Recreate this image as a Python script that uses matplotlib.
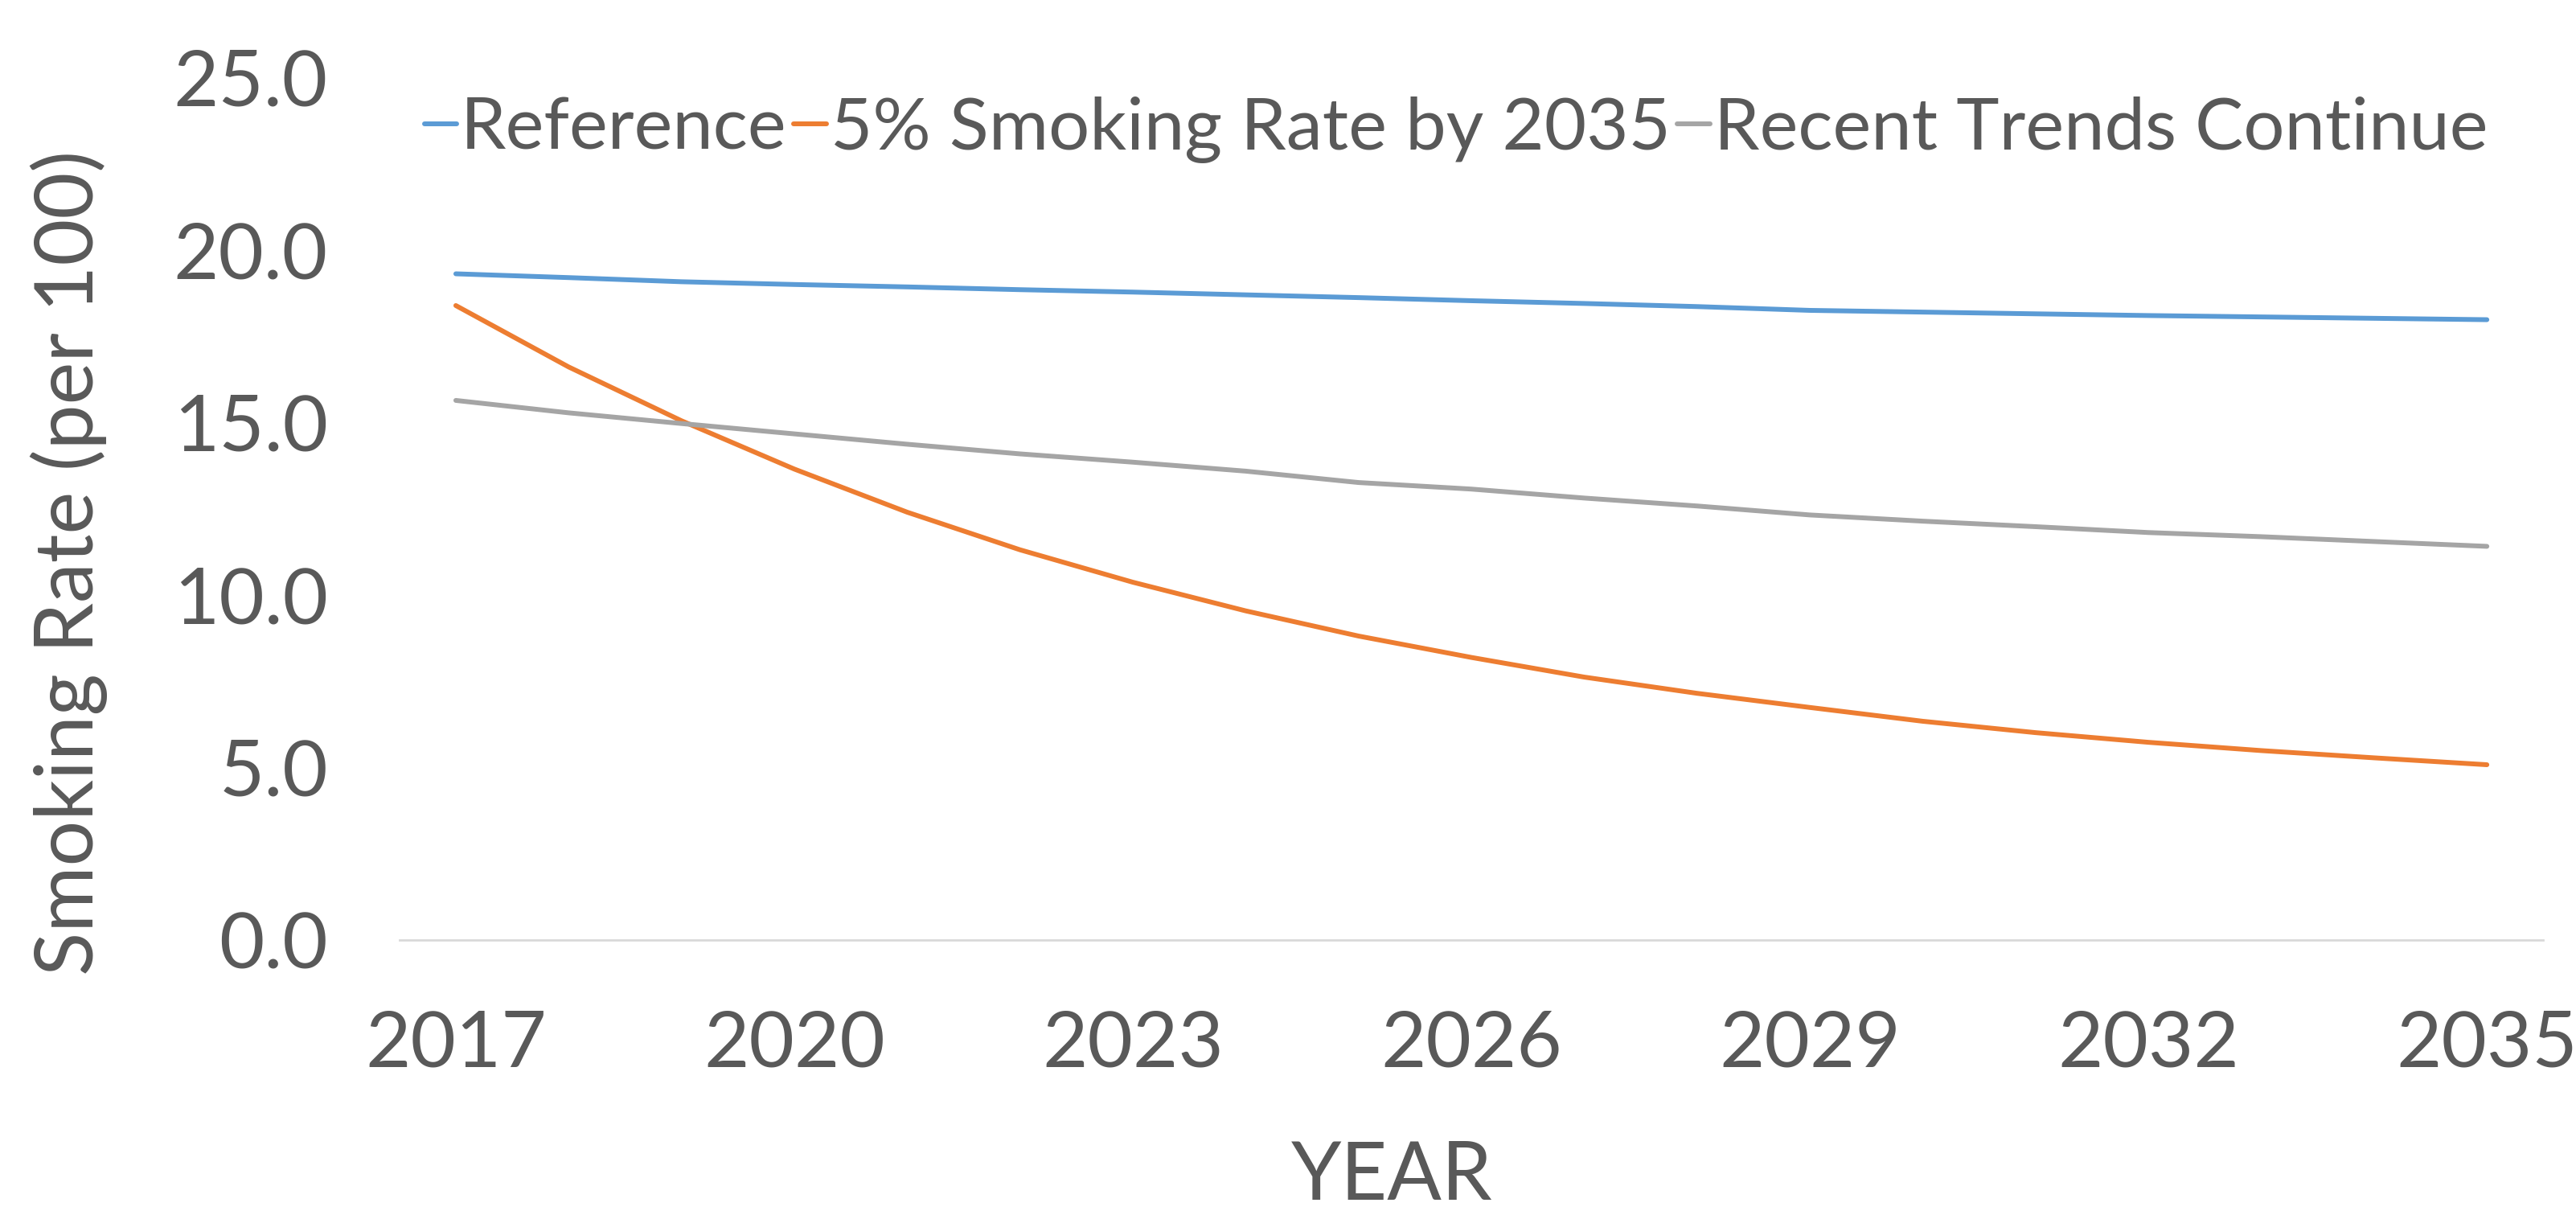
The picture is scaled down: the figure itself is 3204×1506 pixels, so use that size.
import numpy as np
import matplotlib
matplotlib.use("Agg")
import matplotlib.pyplot as plt

plt.rcParams['font.family'] = ['Lato', 'DejaVu Sans']

# data
years = list(range(2017, 2036))
reference = [19.31, 19.20, 19.08, 19.00, 18.93, 18.85, 18.78, 18.70, 18.62, 18.53,
             18.45, 18.36, 18.25, 18.20, 18.15, 18.10, 18.06, 18.02, 17.98]
five_pct = [18.39, 16.61, 15.05, 13.65, 12.40, 11.31, 10.37, 9.54, 8.81, 8.19,
            7.62, 7.15, 6.74, 6.34, 6.01, 5.73, 5.49, 5.28, 5.08]
recent = [15.64, 15.28, 14.97, 14.67, 14.37, 14.09, 13.85, 13.59, 13.26, 13.07,
          12.81, 12.58, 12.32, 12.14, 11.98, 11.81, 11.69, 11.55, 11.41]
series_names = ["Reference", "5% Smoking Rate by 2035", "Recent Trends Continue"]
colors = ["#5B9BD5", "#ED7D31", "#A5A5A5"]
xticks = [2017, 2020, 2023, 2026, 2029, 2032, 2035]
yticks = [0, 5, 10, 15, 20, 25]

txt = "#595959"

fig = plt.figure(figsize=(32.05, 15.06), dpi=100)
ax = fig.add_axes([0.155, 0.2238, 0.832, 0.7122])

for vals, name, c in zip([reference, five_pct, recent], series_names, colors):
    ax.plot(years, vals, color=c, lw=4.3, label=name, solid_capstyle="round")

ax.set_xlim(2016.5, 2035.5)
ax.set_ylim(0, 25)
ax.set_xticks(xticks)
ax.set_yticks(yticks)
ax.set_yticklabels([f"{v:.1f}" for v in yticks])

for s in ["top", "right", "left"]:
    ax.spines[s].set_visible(False)
ax.spines["bottom"].set_color("#D9D9D9")
ax.spines["bottom"].set_linewidth(2)

ax.tick_params(axis="both", length=0, labelsize=70, labelcolor=txt)
ax.tick_params(axis="y", pad=64)
ax.tick_params(axis="x", pad=62)

ax.set_xlabel("YEAR", fontsize=72, color=txt)
ax.set_ylabel("Smoking Rate (per 100)", fontsize=72, color=txt)
ax.xaxis.label.set_va("center")
ax.yaxis.label.set_va("center")
ax.xaxis.set_label_coords(0.463, -0.275)
ax.yaxis.set_label_coords(-0.154, 0.437)

fig.legend(loc="center", bbox_to_anchor=(0.565, 0.893), ncol=3, frameon=False,
           fontsize=65, labelcolor=txt, handlelength=0.45, handletextpad=0.05,
           columnspacing=0.1, borderaxespad=0)

fig.savefig("out.png", dpi=100, facecolor="white")
